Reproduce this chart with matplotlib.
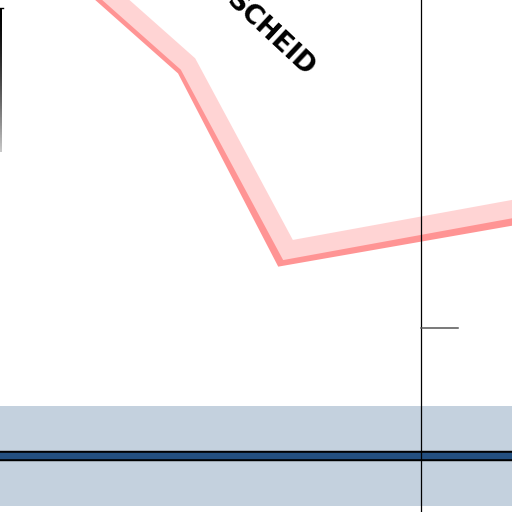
import numpy as np
import matplotlib.pyplot as plt

# values (x right, y down)
line_x = [82, 188, 288, 540]
line_y = [-30, 64, 250, 204]
shadow_x = [79, 185, 283, 540]
shadow_y = [-26, 68, 257, 212]

band_y = [406, 506]
blue_y = 456
tick_y = 328
vline_x = 421
label = "SCHEID"

fig = plt.figure(figsize=(5.12, 5.12), dpi=100)
ax = fig.add_axes([0, 0, 1, 1])
ax.set_xlim(0, 512)
ax.set_ylim(512, 0)
ax.axis("off")

# light band with blue line
ax.axhspan(band_y[0], band_y[1], color="#c4d1de", lw=0, zorder=1)
ax.axhline(blue_y, color="black", lw=7.5, zorder=2)
ax.axhline(blue_y, color="#234f80", lw=4.6, zorder=3)

# pink line and its darker edge
ax.plot(shadow_x, shadow_y, color="#ff9494", lw=12.5, solid_joinstyle="miter", zorder=4)
ax.plot(line_x, line_y, color="#ffd4d4", lw=13, solid_joinstyle="miter", zorder=5)

# vertical rule and tick
ax.axvline(vline_x, color="black", lw=0.9, zorder=6)
ax.plot([vline_x, 458], [tick_y, tick_y], color="#555555", lw=1.1, zorder=6)

# left edge, fading bar
grad = np.linspace(0, 0.85, 50).reshape(-1, 1) ** 1.5
ax.imshow(grad, cmap="gray", vmin=0, vmax=1, extent=[0, 2, 152, 8], aspect="auto", zorder=6)
ax.plot([0, 3], [8, 8], color="black", lw=1, zorder=7)
ax.set_xlim(0, 512)
ax.set_ylim(512, 0)

ax.text(270, 34, label, rotation=-43, rotation_mode="anchor", ha="center", va="center",
        fontsize=19, fontweight="bold", family="DejaVu Sans", zorder=8)

fig.savefig("out.png", dpi=100)
